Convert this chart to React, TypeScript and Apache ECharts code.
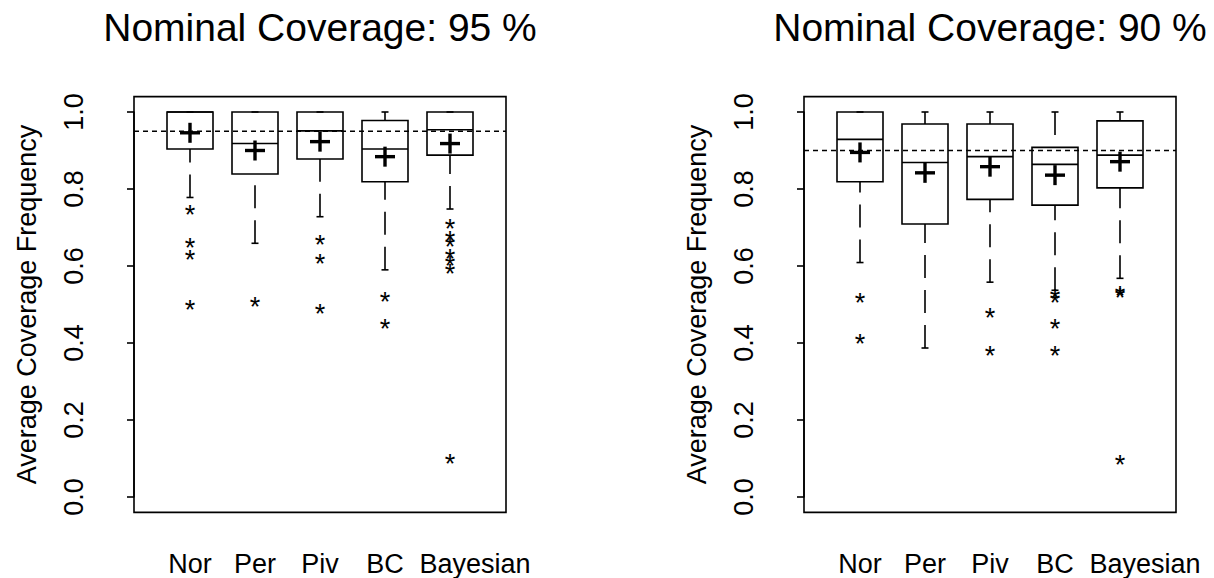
import React, { useEffect, useRef } from "react";
import * as echarts from "echarts";

// ---------------- data ----------------
const categories = ["Nor", "Per", "Piv", "BC", "Bayesian"];
const yTickLabels = ["0.0", "0.2", "0.4", "0.6", "0.8", "1.0"];
const panelTitles = ["Nominal Coverage: 95 %", "Nominal Coverage: 90 %"];
const nominalLevels = [0.95, 0.9];
const yAxisTitle = "Average Coverage Frequency";

// panel 1 (95 %)
const lower95 = [0.778, 0.659, 0.728, 0.59, 0.748];
const q1_95 = [0.904, 0.839, 0.878, 0.819, 0.888];
const median95 = [1.0, 0.918, 0.951, 0.904, 0.954];
const q3_95 = [1.0, 1.0, 1.0, 0.978, 1.0];
const upper95 = [1.0, 1.0, 1.0, 1.0, 1.0];
const mean95 = [0.946, 0.9, 0.923, 0.884, 0.918];
const outliers95 = [
  [0.744, 0.657, 0.626, 0.496],
  [0.505],
  [0.666, 0.616, 0.485],
  [0.517, 0.447],
  [0.706, 0.676, 0.659, 0.628, 0.611, 0.59, 0.095],
];

// panel 2 (90 %)
const lower90 = [0.609, 0.387, 0.558, 0.537, 0.568];
const q1_90 = [0.819, 0.709, 0.773, 0.758, 0.803];
const median90 = [0.929, 0.869, 0.884, 0.864, 0.888];
const q3_90 = [1.0, 0.969, 0.969, 0.908, 0.977];
const upper90 = [1.0, 1.0, 1.0, 1.0, 1.0];
const mean90 = [0.895, 0.842, 0.858, 0.836, 0.871];
const outliers90 = [
  [0.513, 0.407],
  [],
  [0.475, 0.376],
  [0.525, 0.513, 0.447, 0.376],
  [0.533, 0.527, 0.094],
];

// ---------------- layout ----------------
const FONT = "'Liberation Sans', Arial, Helvetica, sans-serif";
const PANEL_DX = 670;
const GRID_LEFT = 157.5;
const GRID_TOP = 112;
const GRID_W = 325;
const GRID_H = 385;
const SIDE_PAD = 23.5;
const VPAD = 15.4;
const LW = 1.6;
const BOX_HALF = 23;
const CAP_HALF = 3.5;

function App() {
  const ref = useRef<HTMLDivElement>(null);

  useEffect(() => {
    if (!ref.current) return;
    const chart = echarts.init(ref.current, null, { renderer: "svg" });

    const panels = [
      { lower: lower95, q1: q1_95, med: median95, q3: q3_95, upper: upper95, mean: mean95, out: outliers95 },
      { lower: lower90, q1: q1_90, med: median90, q3: q3_90, upper: upper90, mean: mean90, out: outliers90 },
    ];

    const grids: any[] = [];
    const xAxes: any[] = [];
    const yAxes: any[] = [];
    const series: any[] = [];
    const graphics: any[] = [];

    panels.forEach((p, k) => {
      const gl = GRID_LEFT + PANEL_DX * k;
      grids.push({ left: gl, top: GRID_TOP, width: GRID_W, height: GRID_H, containLabel: false });
      xAxes.push({
        type: "category",
        gridIndex: k,
        data: categories,
        axisLine: { show: false },
        axisTick: { show: false },
        splitLine: { show: false },
        axisLabel: {
          interval: 0,
          margin: 53,
          fontSize: 27,
          fontFamily: FONT,
          color: "#000",
          formatter: (v: string) => (v === "Bayesian" ? "{b|" + v + "}" : v),
          rich: { b: { fontSize: 27, fontFamily: FONT, color: "#000", padding: [0, 0, 0, 50] } },
        },
      });
      yAxes.push({
        type: "value",
        gridIndex: k,
        min: 0,
        max: 1,
        interval: 0.2,
        offset: SIDE_PAD,
        splitLine: { show: false },
        axisLine: { show: true, lineStyle: { color: "#000", width: LW } },
        axisTick: { show: true, length: 7, lineStyle: { color: "#000", width: LW } },
        axisLabel: {
          rotate: 90,
          margin: 47,
          fontSize: 27,
          fontFamily: FONT,
          color: "#000",
          formatter: (v: number) => yTickLabels[Math.round(v / 0.2)],
        },
        name: yAxisTitle,
        nameLocation: "middle",
        nameRotate: 90,
        nameGap: 94,
        nameTextStyle: { fontSize: 27, fontFamily: FONT, color: "#000" },
      });

      // frame
      graphics.push({
        type: "rect",
        shape: { x: gl - SIDE_PAD, y: GRID_TOP - VPAD, width: GRID_W + 2 * SIDE_PAD, height: GRID_H + 2 * VPAD },
        style: { fill: "none", stroke: "#000", lineWidth: LW },
        z: 1,
      });
      graphics.push({
        type: "text",
        x: gl + GRID_W / 2,
        y: 27,
        style: {
          text: panelTitles[k],
          fontSize: 39,
          fontFamily: FONT,
          fill: "#000",
          align: "center",
          verticalAlign: "middle",
        },
      });

      // boxes
      series.push({
        type: "custom",
        xAxisIndex: k,
        yAxisIndex: k,
        encode: { x: 0, y: [1, 2, 3, 4, 5] },
        data: categories.map((_, i) => [i, p.lower[i], p.q1[i], p.med[i], p.q3[i], p.upper[i]]),
        renderItem: (params: any, api: any) => {
          const idx = api.value(0);
          const [x, yLo] = api.coord([idx, api.value(1)]);
          const yQ1 = api.coord([idx, api.value(2)])[1];
          const yMed = api.coord([idx, api.value(3)])[1];
          const yQ3 = api.coord([idx, api.value(4)])[1];
          const yHi = api.coord([idx, api.value(5)])[1];
          const solid = { stroke: "#000", lineWidth: LW, fill: "none" };
          const dashed = { stroke: "#000", lineWidth: LW, lineDash: [23, 12] };
          return {
            type: "group",
            children: [
              { type: "line", shape: { x1: x, y1: yLo, x2: x, y2: yQ1 }, style: dashed },
              { type: "line", shape: { x1: x, y1: yHi, x2: x, y2: yQ3 }, style: dashed },
              { type: "line", shape: { x1: x - CAP_HALF, y1: yLo, x2: x + CAP_HALF, y2: yLo }, style: solid },
              { type: "line", shape: { x1: x - CAP_HALF, y1: yHi, x2: x + CAP_HALF, y2: yHi }, style: solid },
              {
                type: "rect",
                shape: { x: x - BOX_HALF, y: yQ3, width: 2 * BOX_HALF, height: yQ1 - yQ3 },
                style: solid,
              },
              { type: "line", shape: { x1: x - BOX_HALF, y1: yMed, x2: x + BOX_HALF, y2: yMed }, style: solid },
            ],
          };
        },
        z: 2,
      });

      // nominal reference line
      series.push({
        type: "custom",
        xAxisIndex: k,
        yAxisIndex: k,
        encode: { x: 0, y: 1 },
        data: [[0, nominalLevels[k]]],
        renderItem: (params: any, api: any) => {
          const cs = params.coordSys;
          const y = api.coord([0, api.value(1)])[1];
          return {
            type: "line",
            shape: { x1: cs.x - SIDE_PAD, y1: y, x2: cs.x + cs.width + SIDE_PAD, y2: y },
            style: { stroke: "#000", lineWidth: 1.3, lineDash: [5, 4] },
          };
        },
        z: 3,
      });

      // means
      series.push({
        type: "custom",
        xAxisIndex: k,
        yAxisIndex: k,
        encode: { x: 0, y: 1 },
        data: categories.map((_, i) => [i, p.mean[i]]),
        renderItem: (params: any, api: any) => {
          const [x, y] = api.coord([api.value(0), api.value(1)]);
          const st = { stroke: "#000", lineWidth: 3.4 };
          return {
            type: "group",
            children: [
              { type: "line", shape: { x1: x - 10, y1: y, x2: x + 10, y2: y }, style: st },
              { type: "line", shape: { x1: x, y1: y - 10, x2: x, y2: y + 10 }, style: st },
            ],
          };
        },
        z: 4,
      });

      // outliers
      const outData: number[][] = [];
      p.out.forEach((arr, i) => arr.forEach((v) => outData.push([i, v])));
      series.push({
        type: "custom",
        xAxisIndex: k,
        yAxisIndex: k,
        encode: { x: 0, y: 1 },
        data: outData,
        renderItem: (params: any, api: any) => {
          const [x, y] = api.coord([api.value(0), api.value(1)]);
          return {
            type: "text",
            x: x,
            y: y + 4,
            style: {
              text: "*",
              fontSize: 27,
              fontFamily: FONT,
              fill: "#000",
              align: "center",
              verticalAlign: "middle",
            },
          };
        },
        z: 4,
      });
    });

    chart.setOption({
      animation: false,
      backgroundColor: "#fff",
      grid: grids,
      xAxis: xAxes,
      yAxis: yAxes,
      series,
      graphic: graphics,
    });

    return () => chart.dispose();
  }, []);

  return (
    <div
      ref={ref}
      style={{ position: "absolute", left: 0, top: 0, width: 1214, height: 578 }}
    />
  );
}

export default App;
